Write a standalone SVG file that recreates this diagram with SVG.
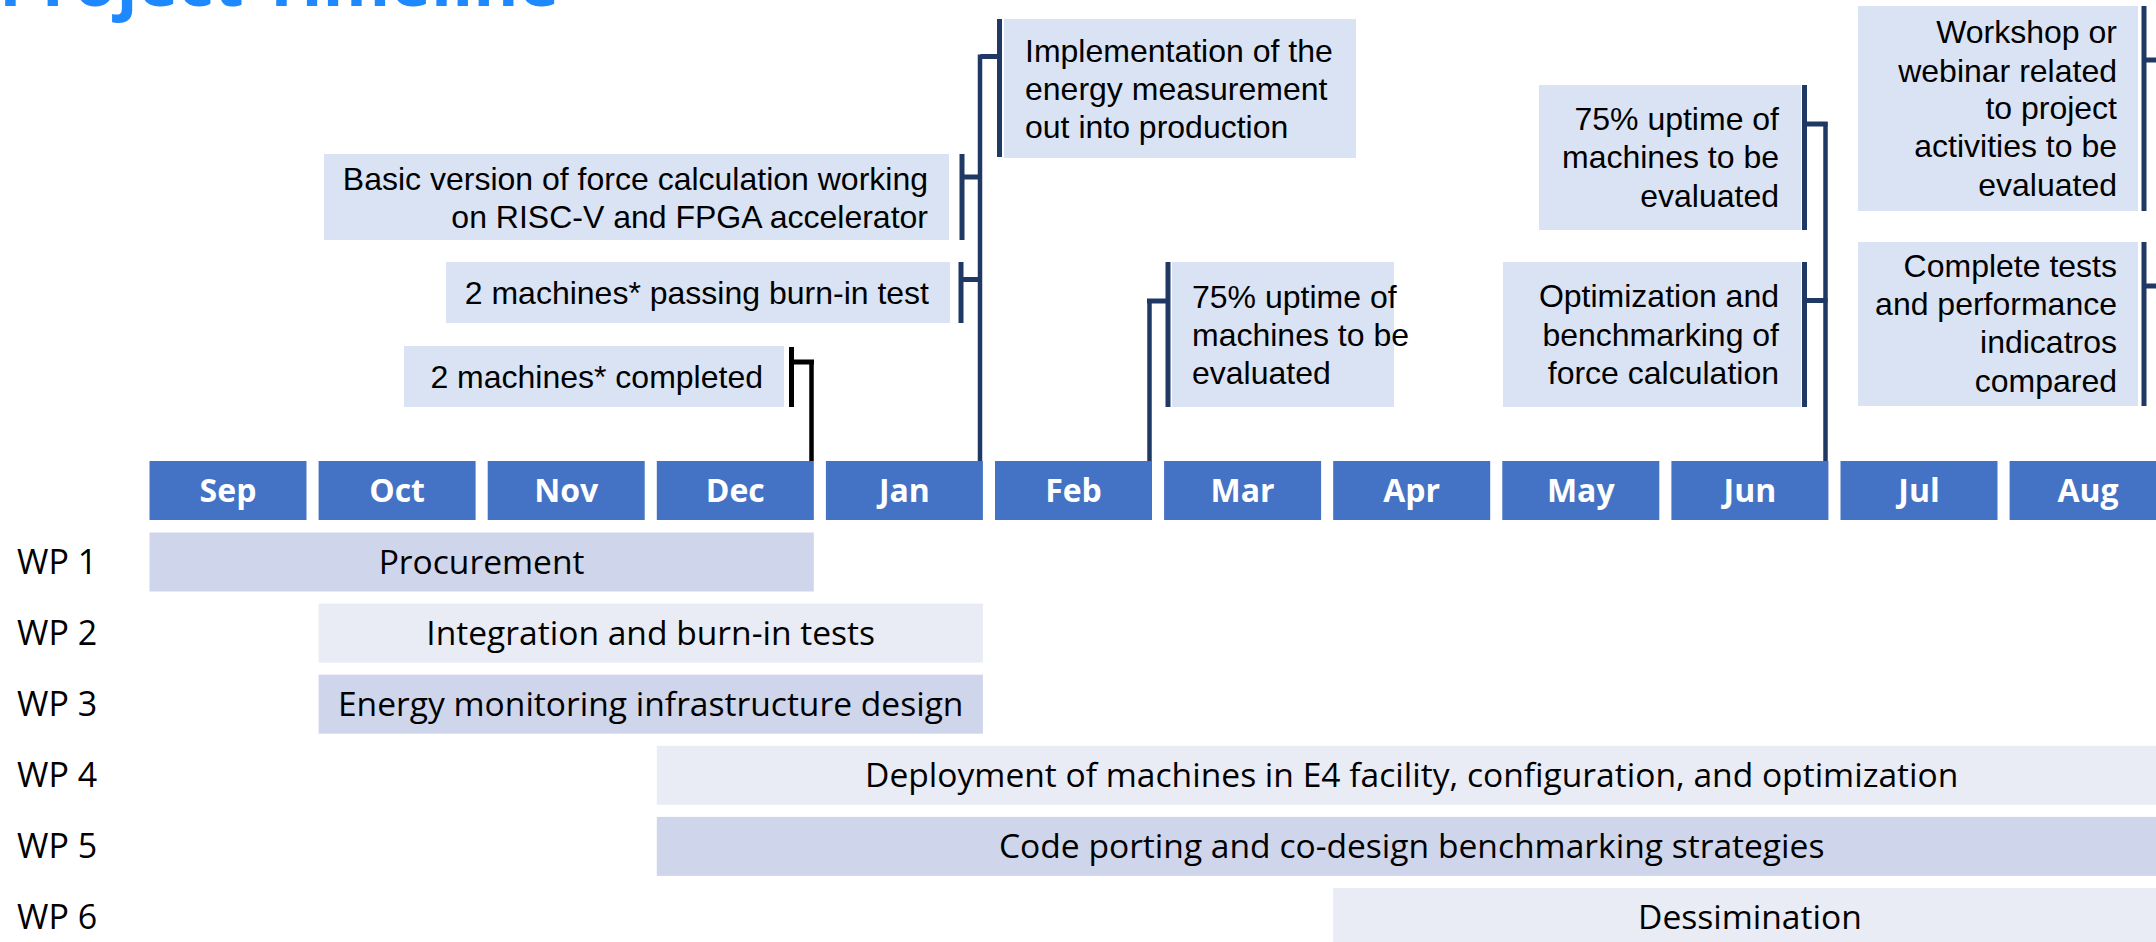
<svg xmlns="http://www.w3.org/2000/svg" width="2156" height="942" viewBox="0 0 2156 942">
<style>
.title{font-family:"Open Sans","Liberation Sans",sans-serif;font-weight:700;font-size:69px;fill:#1E88FF}
.mon{fill:#4472C4}
.mt{font-family:"Open Sans","Liberation Sans",sans-serif;font-weight:700;font-size:32px;fill:#FFFFFF;text-anchor:middle}
.wpd{fill:#CFD5EA}
.wpl{fill:#E9EBF5}
.wt{font-family:"Open Sans","Liberation Sans",sans-serif;font-size:33.6px;fill:#000000;text-anchor:middle}
.wl{font-family:"Open Sans","Liberation Sans",sans-serif;font-size:34px;fill:#000000}
.ms{fill:#DAE3F3}
.mx{font-family:"Liberation Sans",Arial,sans-serif;font-size:32px;fill:#000000}
.r{text-anchor:end}
.c{fill:none;stroke:#1F3864;stroke-width:5;stroke-linecap:butt;stroke-linejoin:miter}
.cl{fill:none;stroke:#1F3864;stroke-width:4.5}
.k{stroke:#000000}
</style>
<text class="title" x="-1" y="6">Project Timeline</text>

<g id="months">
<g id="m-sep"><rect class="mon" x="149.5" y="461" width="157" height="59"/><text class="mt" x="228" y="502">Sep</text></g>
<g id="m-oct"><rect class="mon" x="318.6" y="461" width="157" height="59"/><text class="mt" x="397.1" y="502">Oct</text></g>
<g id="m-nov"><rect class="mon" x="487.7" y="461" width="157" height="59"/><text class="mt" x="566.2" y="502">Nov</text></g>
<g id="m-dec"><rect class="mon" x="656.8" y="461" width="157" height="59"/><text class="mt" x="735.3" y="502">Dec</text></g>
<g id="m-jan"><rect class="mon" x="825.9" y="461" width="157" height="59"/><text class="mt" x="904.4" y="502">Jan</text></g>
<g id="m-feb"><rect class="mon" x="995" y="461" width="157" height="59"/><text class="mt" x="1073.5" y="502">Feb</text></g>
<g id="m-mar"><rect class="mon" x="1164.1" y="461" width="157" height="59"/><text class="mt" x="1242.6" y="502">Mar</text></g>
<g id="m-apr"><rect class="mon" x="1333.2" y="461" width="157" height="59"/><text class="mt" x="1411.7" y="502">Apr</text></g>
<g id="m-may"><rect class="mon" x="1502.3" y="461" width="157" height="59"/><text class="mt" x="1580.8" y="502">May</text></g>
<g id="m-jun"><rect class="mon" x="1671.4" y="461" width="157" height="59"/><text class="mt" x="1749.9" y="502">Jun</text></g>
<g id="m-jul"><rect class="mon" x="1840.5" y="461" width="157" height="59"/><text class="mt" x="1919" y="502">Jul</text></g>
<g id="m-aug"><rect class="mon" x="2009.6" y="461" width="157" height="59"/><text class="mt" x="2088.1" y="502">Aug</text></g>
</g>

<g id="wp1"><text class="wl" x="17" y="574">WP 1</text><rect class="wpd" x="149.5" y="532.5" width="664.3" height="59"/><text class="wt" x="481.6" y="574">Procurement</text></g>
<g id="wp2"><text class="wl" x="17" y="645">WP 2</text><rect class="wpl" x="318.6" y="603.6" width="664.3" height="59"/><text class="wt" x="650.7" y="645">Integration and burn-in tests</text></g>
<g id="wp3"><text class="wl" x="17" y="716">WP 3</text><rect class="wpd" x="318.6" y="674.7" width="664.3" height="59"/><text class="wt" x="650.7" y="716">Energy monitoring infrastructure design</text></g>
<g id="wp4"><text class="wl" x="17" y="787">WP 4</text><rect class="wpl" x="656.8" y="745.8" width="1510" height="59"/><text class="wt" x="1411.7" y="787">Deployment of machines in E4 facility, configuration, and optimization</text></g>
<g id="wp5"><text class="wl" x="17" y="858">WP 5</text><rect class="wpd" x="656.8" y="816.9" width="1510" height="59"/><text class="wt" x="1411.7" y="858">Code porting and co-design benchmarking strategies</text></g>
<g id="wp6"><text class="wl" x="17" y="929">WP 6</text><rect class="wpl" x="1333.2" y="888" width="834" height="59"/><text class="wt" x="1749.9" y="929">Dessimination</text></g>

<g id="ms-impl"><rect class="ms" x="1004" y="19" width="352" height="139"/>
<text class="mx" x="1025" y="62">Implementation of the</text><text class="mx" x="1025" y="100">energy measurement</text><text class="mx" x="1025" y="138">out into production</text></g>
<g id="ms-basic"><rect class="ms" x="324" y="154" width="625" height="86"/>
<text class="mx r" x="928" y="190">Basic version of force calculation working</text><text class="mx r" x="928" y="228">on RISC-V and FPGA accelerator</text></g>
<g id="ms-burn"><rect class="ms" x="446" y="262" width="504" height="61"/>
<text class="mx r" x="929" y="304">2 machines* passing burn-in test</text></g>
<g id="ms-compl"><rect class="ms" x="404" y="346" width="380" height="61"/>
<text class="mx r" x="763" y="388">2 machines* completed</text></g>
<g id="ms-feb"><rect class="ms" x="1172" y="262" width="222" height="145"/>
<text class="mx" x="1192" y="308">75% uptime of</text><text class="mx" x="1192" y="346">machines to be</text><text class="mx" x="1192" y="384">evaluated</text></g>
<g id="ms-jun1"><rect class="ms" x="1539" y="85" width="262" height="145"/>
<text class="mx r" x="1779" y="130">75% uptime of</text><text class="mx r" x="1779" y="168">machines to be</text><text class="mx r" x="1779" y="207">evaluated</text></g>
<g id="ms-jun2"><rect class="ms" x="1503" y="262" width="298" height="145"/>
<text class="mx r" x="1779" y="307">Optimization and</text><text class="mx r" x="1779" y="346">benchmarking of</text><text class="mx r" x="1779" y="384">force calculation</text></g>
<g id="ms-aug1"><rect class="ms" x="1858" y="6" width="280" height="205"/>
<text class="mx r" x="2117" y="43">Workshop or</text><text class="mx r" x="2117" y="82">webinar related</text><text class="mx r" x="2117" y="119">to project</text><text class="mx r" x="2117" y="157">activities to be</text><text class="mx r" x="2117" y="196">evaluated</text></g>
<g id="ms-aug2"><rect class="ms" x="1858" y="242" width="280" height="164"/>
<text class="mx r" x="2117" y="277">Complete tests</text><text class="mx r" x="2117" y="315">and performance</text><text class="mx r" x="2117" y="353">indicatros</text><text class="mx r" x="2117" y="392">compared</text></g>

<g id="connectors">
<path class="c" d="M999.5 19V157M999.5 56.5H980.5"/>
<path class="c" d="M962 154V240M962 177H980.5"/>
<path class="c" d="M961 262V323M961 279.5H980.5"/>
<path class="cl" d="M980 54.5V461"/>
<path class="c k" d="M791.5 347V407M791.5 362H814"/>
<path class="cl k" d="M811.5 360V461"/>
<path class="c" d="M1168 262V407M1168 301H1147"/>
<path class="cl" d="M1149.5 299V461"/>
<path class="c" d="M1804.5 85V230M1804.5 124H1827.5"/>
<path class="c" d="M1804.5 262V407M1804.5 300.5H1827.5"/>
<path class="cl" d="M1825.5 122V461"/>
<path class="c" d="M2144 6V211M2144 60H2160"/>
<path class="c" d="M2144 242V406M2144 286H2160"/>
</g>
</svg>
